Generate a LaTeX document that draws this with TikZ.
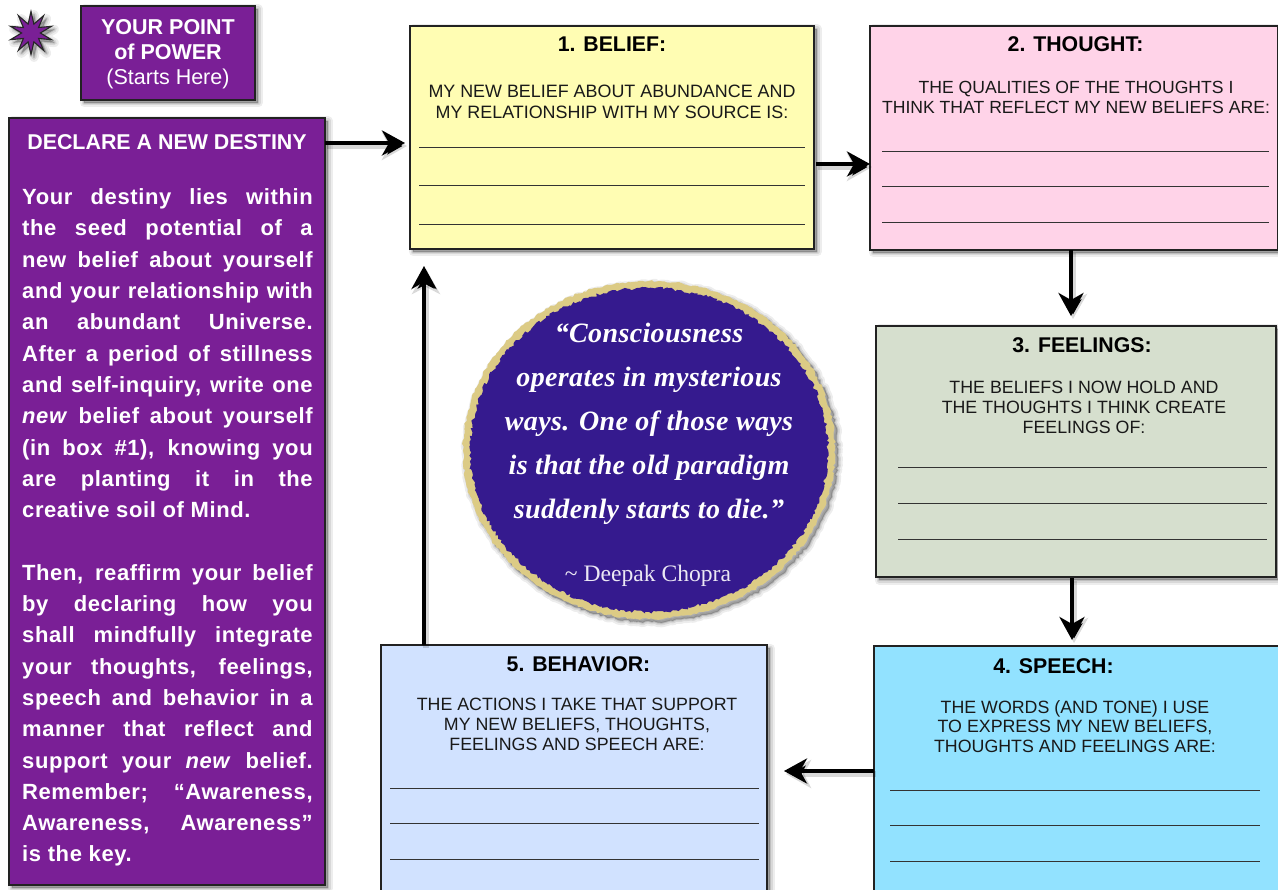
\documentclass[tikz,border=0pt]{standalone}
\usepackage{fontspec}
\setmainfont{Liberation Sans}
\newfontfamily\quotefont{Liberation Serif}
\newfontfamily\bodyfont[LetterSpace=2.7]{Liberation Sans}
\newfontfamily\quoteital[LetterSpace=1.3]{Liberation Serif}
\usetikzlibrary{arrows.meta,shapes.geometric,decorations.pathmorphing,calc}
\definecolor{purp}{HTML}{7A1F96}
\definecolor{yel}{HTML}{FFFDB3}
\definecolor{pnk}{HTML}{FFD3E8}
\definecolor{sage}{HTML}{D6DFCE}
\definecolor{skyb}{HTML}{92E2FF}
\definecolor{paleb}{HTML}{D1E2FF}
\definecolor{indigoq}{HTML}{351A8E}
\definecolor{goldq}{HTML}{DCCB85}
\definecolor{framec}{HTML}{222222}
\tikzset{
  x=1pt,y=-1pt,
  softshadow/.style={
    preaction={fill=black,fill opacity=.07,draw=black,draw opacity=.07,line width=9pt,line join=round,transform canvas={shift={(3pt,-3pt)}}},
    preaction={fill=black,fill opacity=.09,draw=black,draw opacity=.09,line width=5pt,line join=round,transform canvas={shift={(3pt,-3pt)}}},
    preaction={fill=black,fill opacity=.12,draw=black,draw opacity=.12,line width=2pt,line join=round,transform canvas={shift={(3pt,-3pt)}}}},
  panel/.style={rectangle,anchor=north west,inner sep=0pt,outer sep=0pt,draw=framec,line width=1.6pt,softshadow},
  titletext/.style={anchor=base,font=\bfseries\fontsize{21.3}{24}\selectfont,text=black,inner sep=0pt},
  asktext/.style={anchor=north,align=center,font=\fontsize{17.8}{19.8}\selectfont,text=black!90,inner sep=0pt},
  purphead/.style={anchor=north,align=center,text=white,inner sep=0pt},
  rulel/.style={draw=black!80,line width=.9pt},
  flow/.style={draw=black,line width=3.8pt,-{Stealth[length=23pt,width=25pt,inset=7pt]},
    preaction={draw=black,draw opacity=.15,line width=6pt,-{Stealth[length=25pt,width=28pt,inset=7pt]},transform canvas={shift={(2pt,-3pt)}}}},
}
\newcommand{\rulesin}[5]{\foreach \yy in {#3,#4,#5}{\draw[rulel] (#1,\yy) -- (#2,\yy);}}
\begin{document}
\begin{tikzpicture}
\useasboundingbox (0,0) rectangle (1278,890);
% star
\node[star,star points=10,star point ratio=2.3,minimum size=43pt,inner sep=0pt,outer sep=0pt,fill=purp,draw=black!85,line width=1.1pt,softshadow] (burst) at (31,33) {};
% purple boxes
\node[panel,fill=purp,minimum width=174pt,minimum height=94pt] (point) at (81,6) {};
\node[panel,fill=purp,minimum width=316pt,minimum height=767pt] (declare) at (9,118) {};
\node[purphead,font=\bfseries\fontsize{21.5}{25}\selectfont] (pointtext) at (168,19) {YOUR POINT\\of POWER\\{\mdseries (Starts Here)}};
\node[purphead,font=\bfseries\fontsize{21.4}{25}\selectfont] (declaretitle) at (167,134) {DECLARE A NEW DESTINY};
\node[anchor=north west,inner sep=0pt,text width=290.5pt,align=justify,text=white,font=\bodyfont\bfseries\fontsize{22}{31.3}\selectfont] (declarebody) at (22,188.5) {%
Your destiny lies within\linebreak
the seed potential of a\linebreak
new belief about yourself\linebreak
and your relationship with\linebreak
an abundant Universe.\linebreak
After a period of stillness\linebreak
and self-inquiry, write one\linebreak
\textit{new} belief about yourself\linebreak
(in box \#1), knowing you\linebreak
are planting it in the\linebreak
creative soil of Mind.\par
\vspace{31.3pt}
Then, reaffirm your belief\linebreak
by declaring how you\linebreak
shall mindfully integrate\linebreak
your thoughts, feelings,\linebreak
speech and behavior in a\linebreak
manner that reflect and\linebreak
support your \textit{new} belief.\linebreak
Remember; “Awareness,\linebreak
Awareness, Awareness”\linebreak
is the key.};
% numbered boxes
\node[panel,fill=yel,minimum width=404pt,minimum height=223pt] (belief) at (410,26) {};
\node[panel,fill=pnk,minimum width=408pt,minimum height=224pt] (thought) at (870,26) {};
\node[panel,fill=sage,minimum width=400pt,minimum height=251pt] (feelings) at (876,326) {};
\node[panel,fill=skyb,minimum width=420pt,minimum height=270pt] (speech) at (874,646) {};
\node[panel,fill=paleb,minimum width=386pt,minimum height=270pt] (behavior) at (381,645) {};
% titles
\node[titletext] (t1) at (612,52) {1. BELIEF:};
\node[titletext] (t2) at (1075.5,52) {2. THOUGHT:};
\node[titletext] (t3) at (1082,353) {3. FEELINGS:};
\node[titletext] (t4) at (1053.5,673) {4. SPEECH:};
\node[titletext] (t5) at (578.5,671) {5. BEHAVIOR:};
% prompts
\node[asktext,font=\fontsize{17.9}{21}\selectfont] (a1) at (612,84.5) {MY NEW BELIEF ABOUT ABUNDANCE AND\\MY RELATIONSHIP WITH MY SOURCE IS:};
\node[asktext,font=\fontsize{17.6}{19.8}\selectfont] (a2) at (1076,81) {THE QUALITIES OF THE THOUGHTS I\\THINK THAT REFLECT MY NEW BELIEFS ARE:};
\node[asktext] (a3) at (1084,381) {THE BELIEFS I NOW HOLD AND\\THE THOUGHTS I THINK CREATE\\FEELINGS OF:};
\node[asktext] (a4) at (1075,700) {THE WORDS (AND TONE) I USE\\TO EXPRESS MY NEW BELIEFS,\\THOUGHTS AND FEELINGS ARE:};
\node[asktext] (a5) at (577,698) {THE ACTIONS I TAKE THAT SUPPORT\\MY NEW BELIEFS, THOUGHTS,\\FEELINGS AND SPEECH ARE:};
% write-in rules
\rulesin{419}{805}{147}{185}{224}
\rulesin{882}{1269}{151}{186}{222}
\rulesin{898}{1267}{467}{503}{539}
\rulesin{890}{1260}{790}{825}{861}
\rulesin{390}{759}{788}{823}{859}
% quote medallion
\node[ellipse,minimum width=372pt,minimum height=338pt,inner sep=0pt,fill=goldq,softshadow,decorate,decoration={random steps,segment length=3pt,amplitude=1.2pt}] (medal) at (649,450) {};
\node[ellipse,minimum width=358pt,minimum height=324pt,inner sep=0pt,fill=indigoq,decorate,decoration={random steps,segment length=2.5pt,amplitude=1.6pt}] (medalin) at (649,450) {};
\node[anchor=north,align=center,inner sep=0pt,text=white,font=\quoteital\bfseries\itshape\fontsize{28}{44}\selectfont] (quote) at (649,323) {“Consciousness\\operates in mysterious\\ways. One of those ways\\is that the old paradigm\\suddenly starts to die.”};
\node[anchor=base,inner sep=0pt,text=white!90!indigoq,font=\quotefont\fontsize{23.6}{26}\selectfont] (author) at (648,581) {\textasciitilde\ Deepak Chopra};
% connectors
\draw[flow] (declare.east |- 0,143) -- ([xshift=-5pt]belief.west |- 0,143);
\draw[flow] ([xshift=2pt]belief.east |- 0,164) -- (thought.west |- 0,164);
\draw[flow] (thought.south -| 1071,0) -- ([yshift=10pt]feelings.north -| 1071,0);
\draw[flow] ([yshift=-1pt]feelings.south -| 1072,0) -- ([yshift=6pt]speech.north -| 1072,0);
\draw[flow] (speech.west |- 0,771) -- ([xshift=17pt]behavior.east |- 0,771);
\draw[flow] (behavior.north -| 424,0) -- ([yshift=-17pt]belief.south -| 424,0);
\end{tikzpicture}
\end{document}
